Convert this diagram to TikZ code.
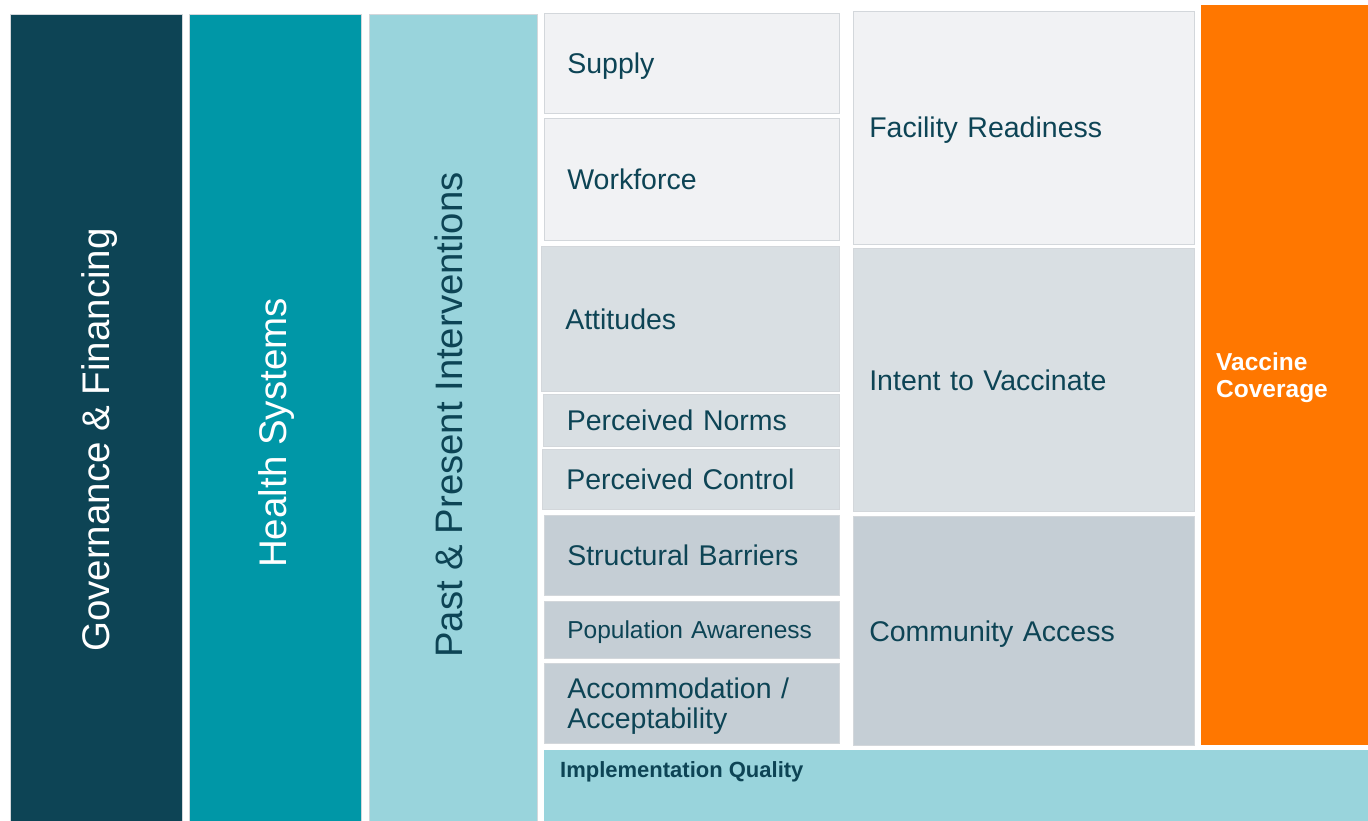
\documentclass[tikz,border=0pt]{standalone}
\usepackage{fontspec}
\setmainfont{Liberation Sans}
\usetikzlibrary{calc}
\definecolor{cdark}{HTML}{0D4455}
\definecolor{cteal}{HTML}{0097A7}
\definecolor{clight}{HTML}{99D4DC}
\definecolor{cpale}{HTML}{F1F2F4}
\definecolor{cmid}{HTML}{D9DFE3}
\definecolor{cgrey}{HTML}{C5CED5}
\definecolor{cedge}{HTML}{D3D7DB}
\definecolor{corange}{HTML}{FF7700}
\definecolor{ctext}{HTML}{0D4455}
\begin{document}
\begin{tikzpicture}[x=1pt,y=-1pt,
  column/.style={draw=cedge,line width=0.5pt,minimum width=#1,inner sep=0pt,anchor=north west},
  coltext/.style={rotate=90,text=white,font=\fontsize{38.5}{44}\selectfont},
  coltextdark/.style={rotate=90,text=ctext,font=\fontsize{38.3}{44}\selectfont},
  lbase/.style={draw=cedge,line width=0.6pt,anchor=north west,inner xsep=23pt,inner ysep=0pt,
     text width=249pt,align=left,text=ctext,font=\fontsize{28.5}{30.5}\selectfont},
  lbox/.style={lbase,text height=20.4pt,text depth=0pt},
  rbox/.style={lbox,inner xsep=16pt,text width=309pt},
]
\useasboundingbox[fill=white] (0,0) rectangle (1368,821);
% columns
\node[column=172pt,fill=cdark,minimum height=807pt] (gov) at (10,14) {};
\node[column=172pt,fill=cteal,minimum height=807pt] (hs) at (189,14) {};
\node[column=168pt,fill=clight,minimum height=807pt] (pp) at (369,14) {};
\node[coltext] at (100,440) {Governance \& Financing};
\node[coltext] at (277,433) {Health Systems};
\node[coltextdark] at (448.5,415) {Past \& Present Interventions};
% left boxes
\node[lbox,fill=cpale,minimum width=295pt,minimum height=100pt] (supply) at (544,13) {Supply};
\node[lbox,fill=cpale,minimum width=295pt,minimum height=122pt] (work) at (544,118) {Workforce};
\node[lbox,fill=cmid,minimum width=298pt,minimum height=145pt,inner xsep=24pt,text width=250pt] (att) at (541,246) {Attitudes};
\node[lbox,fill=cmid,minimum width=296pt,minimum height=52pt] (norms) at (543,394) {Perceived Norms};
\node[lbox,fill=cmid,minimum width=297pt,minimum height=60pt] (ctrl) at (542,449) {Perceived Control};
\node[lbox,fill=cgrey,minimum width=295pt,minimum height=80pt] (struct) at (544,515) {Structural Barriers};
\node[lbox,fill=cgrey,minimum width=295pt,minimum height=57pt,font=\fontsize{24.5}{28}\selectfont,text height=17.5pt] (pop) at (544,601) {Population Awareness};
\node[lbase,fill=cgrey,minimum width=295pt,minimum height=80pt] (acc) at (544,663) {\rule{0pt}{26pt}Accommodation /\\Acceptability};
% right boxes
\node[rbox,fill=cpale,minimum width=341pt,minimum height=233pt] (fac) at (853,11) {Facility Readiness};
\node[rbox,fill=cmid,minimum width=341pt,minimum height=263pt] (intent) at (853,248) {Intent to Vaccinate};
\node[rbox,fill=cgrey,minimum width=341pt,minimum height=229pt] (comm) at (853,516) {Community Access};
% outcome
\node[anchor=north west,fill=corange,minimum width=167pt,minimum height=740pt,inner xsep=15pt,inner ysep=0pt,
  text width=137pt,align=left,text=white,font=\bfseries\fontsize{24.5}{27}\selectfont] (vc) at (1201,5) {\rule{0pt}{23pt}Vaccine\\Coverage};
% implementation quality
\node[anchor=north west,fill=clight,minimum width=824pt,minimum height=71pt,inner sep=0pt] (impl) at (544,750) {};
\node[anchor=west,text=ctext,font=\bfseries\fontsize{22}{26}\selectfont,inner sep=0pt,text height=15.8pt,text depth=0pt] (impltext) at ($(impl.north west)+(16,20)$) {Implementation Quality};
\end{tikzpicture}
\end{document}
